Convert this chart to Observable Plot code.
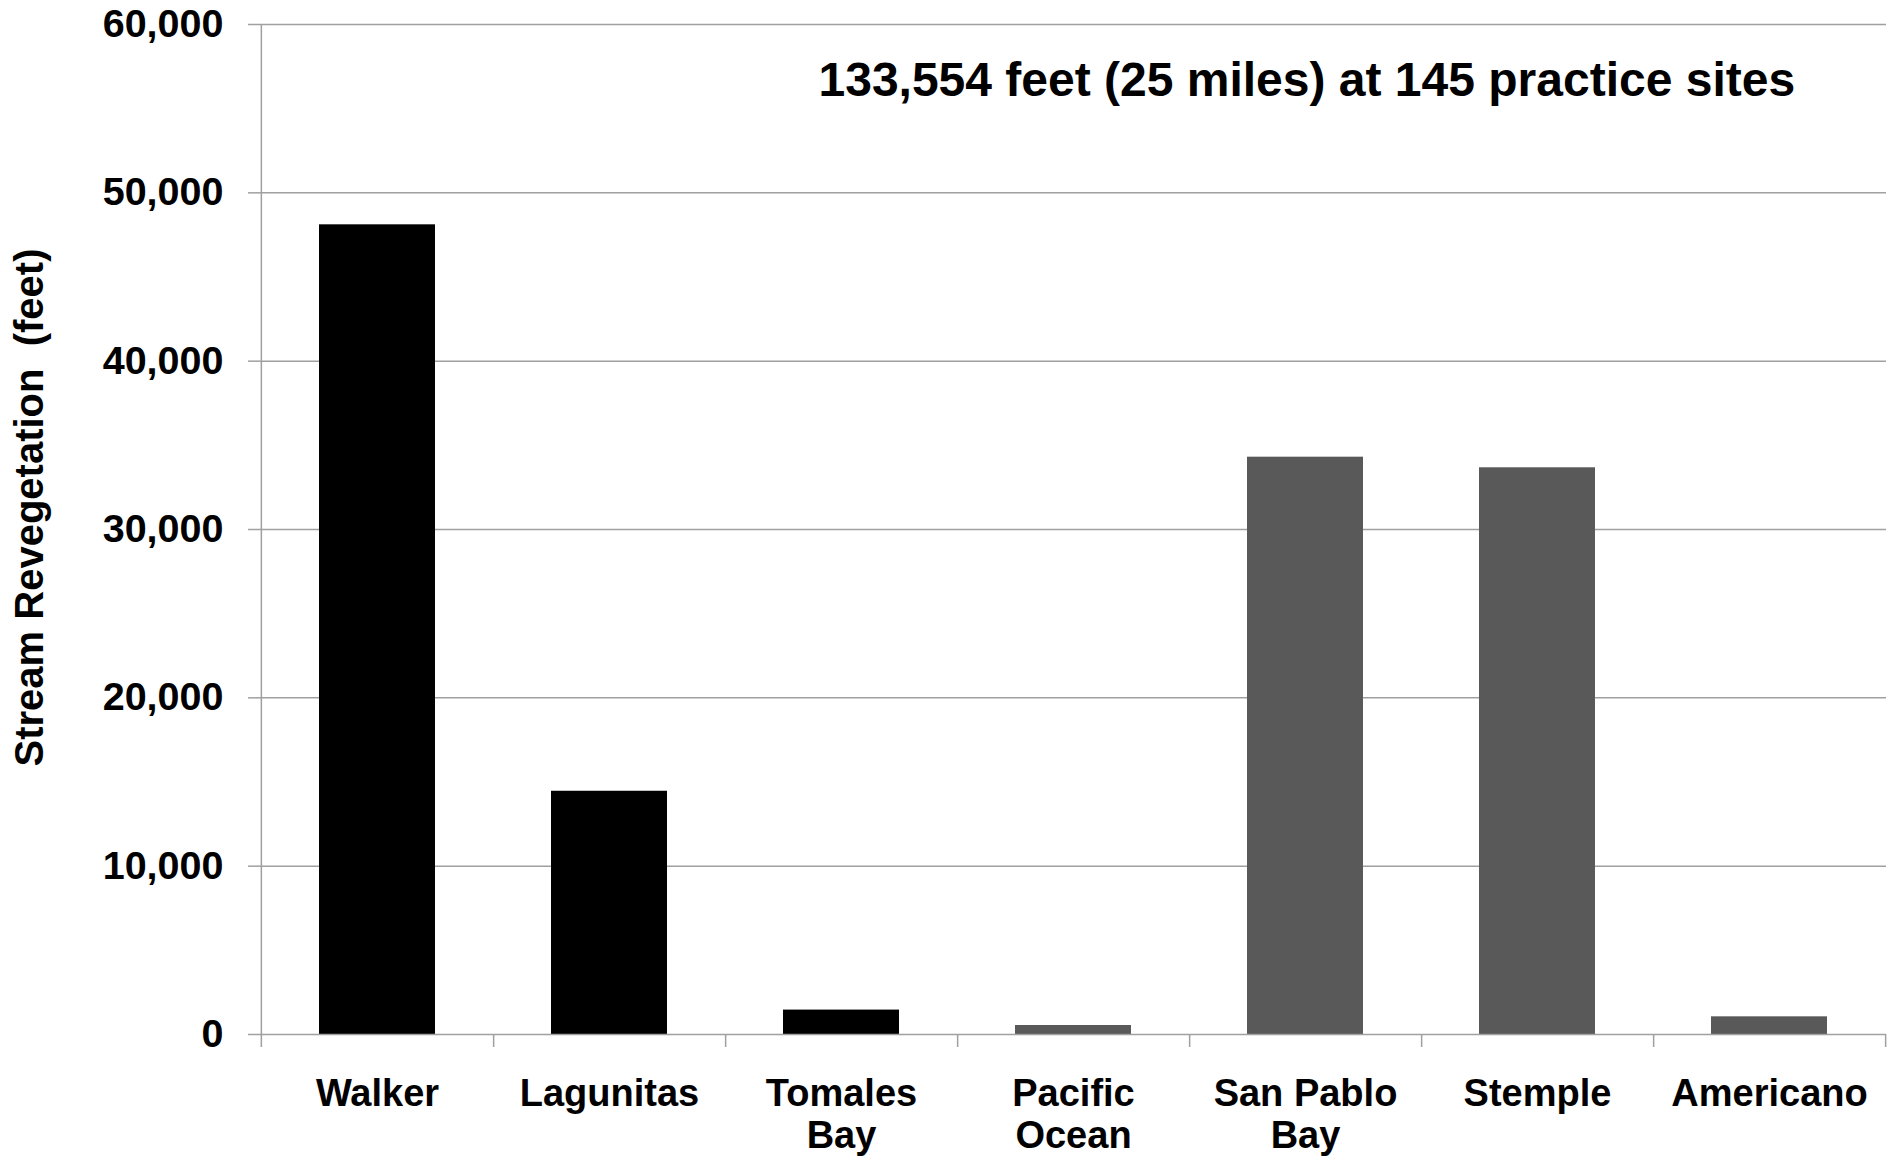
<!DOCTYPE html>
<html>
<head>
<meta charset="utf-8">
<script src="https://cdn.jsdelivr.net/npm/d3@7"></script>
<script src="https://cdn.jsdelivr.net/npm/@observablehq/plot@0.6"></script>
<style>
  html, body { margin: 0; padding: 0; background: #fff; }
  #chart svg { display: block; }
</style>
</head>
<body>
<div id="chart"></div>
<script>
// ---- data ----
const categories = ["Walker", "Lagunitas", "Tomales Bay", "Pacific Ocean", "San Pablo Bay", "Stemple", "Americano"];
const tickLabels = ["Walker", "Lagunitas", "Tomales\nBay", "Pacific\nOcean", "San Pablo\nBay", "Stemple", "Americano"];
const values = [48100, 14450, 1450, 535, 34296, 33666, 1050];
const groups = ["A", "A", "A", "B", "B", "B", "B"];
const yTicks = [0, 10000, 20000, 30000, 40000, 50000, 60000];
const annotation = "133,554 feet (25 miles) at 145 practice sites";
const yLabel = "Stream Revegetation\u00a0 (feet)";

const data = categories.map((c, i) => ({category: c, value: values[i], group: groups[i]}));

const W = 1896, H = 1158, mL = 260, mR = 10, mT = 24, mB = 124;
const step = (W - mL - mR) / categories.length;
const gridColor = "#a0a0a0";

const chart = Plot.plot({
  width: W,
  height: H,
  marginLeft: mL,
  marginRight: mR,
  marginTop: mT,
  marginBottom: mB,
  style: {fontFamily: "'Liberation Sans', Arial, sans-serif", fontWeight: "bold", color: "#000", background: "#fff"},
  x: {domain: categories, paddingInner: 0.5, paddingOuter: 0.25, label: null},
  y: {domain: [0, 60000], label: null},
  color: {domain: ["A", "B"], range: ["#000000", "#595959"]},
  marks: [
    Plot.ruleY(yTicks.filter(d => d > 0), {stroke: gridColor, strokeWidth: 1.5}),
    Plot.barY(data, {x: "category", y: "value", fill: "group"}),
    Plot.ruleY([0], {stroke: gridColor, strokeWidth: 1.5}),
    // left axis line (extends below baseline like a tick)
    Plot.ruleX([categories[0]], {x: d => d, dx: -step / 2, stroke: gridColor, strokeWidth: 1.5, insetBottom: -13}),
    // category boundary ticks
    Plot.ruleX(categories, {x: d => d, dx: step / 2, y1: () => 0, y2: () => 0, insetBottom: -13, stroke: gridColor, strokeWidth: 1.5}),
    Plot.axisY({ticks: yTicks, tickSize: 12, tickPadding: 25, tickFormat: d3.format(","), fontSize: 39.5, stroke: gridColor, strokeWidth: 1.5, label: null}),
    Plot.axisX({tickSize: 0, tickPadding: 41, fontSize: 38, lineHeight: 1.12, tickFormat: d => tickLabels[categories.indexOf(d)], label: null}),
    Plot.text([annotation], {frameAnchor: "top-left", dx: 558, dy: 37, textAnchor: "start", lineAnchor: "top", fontSize: 48, fontWeight: "bold", fill: "#000"}),
    Plot.text([yLabel], {frameAnchor: "left", dx: -230, dy: -22, rotate: -90, textAnchor: "middle", lineAnchor: "middle", fontSize: 40, fontWeight: "bold", fill: "#000"})
  ]
});

document.getElementById("chart").appendChild(chart);
</script>
</body>
</html>
